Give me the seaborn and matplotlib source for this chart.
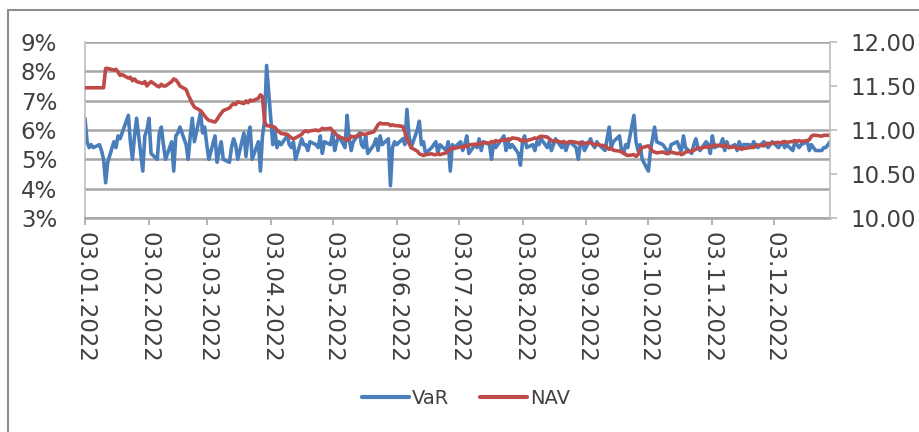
import matplotlib
matplotlib.use("Agg")
import matplotlib.pyplot as plt
from matplotlib.lines import Line2D
import seaborn as sns
import pandas as pd

# ---- data ----
var_pct = [
    6.4, 5.6, 5.4, 5.5, 5.4, 5.5, 5.3, 5.0, 4.2, 4.9,
    5.6, 5.4, 5.8, 5.7, 5.9, 6.5, 5.6, 5.0, 5.8, 6.4,
    4.6, 5.8, 6.0, 6.4, 5.2, 5.0, 5.9, 6.1, 5.5, 5.0,
    5.6, 4.6, 5.8, 5.9, 6.1, 5.5, 5.0, 5.8, 6.4, 5.6,
    6.6, 5.9, 6.1, 5.5, 5.0, 5.8, 4.9, 5.3, 5.6, 5.0,
    4.9, 5.4, 5.7, 5.5, 5.0, 5.9, 5.1, 5.8, 6.1, 5.0,
    5.6, 4.6, 5.8, 6.3, 8.2, 5.5, 6.0, 5.4, 5.6, 5.5,
    5.8, 5.5, 5.4, 5.6, 5.0, 5.7, 5.5, 5.5, 5.3, 5.6,
    5.5, 5.4, 5.8, 5.2, 5.6, 5.5, 5.9, 5.3, 5.6, 5.8,
    5.4, 6.5, 5.7, 5.3, 5.6, 5.9, 5.5, 5.4, 5.8, 5.2,
    5.5, 5.7, 5.3, 5.8, 5.5, 5.7, 4.1, 5.4, 5.6, 5.5,
    5.7, 5.5, 6.7, 5.8, 5.4, 6.0, 6.3, 5.5, 5.6, 5.2,
    5.4, 5.5, 5.6, 5.2, 5.5, 5.3, 5.6, 4.6, 5.5, 5.4,
    5.6, 5.3, 5.5, 5.8, 5.2, 5.5, 5.4, 5.7, 5.3, 5.6,
    5.5, 5.0, 5.6, 5.4, 5.5, 5.8, 5.3, 5.6, 5.4, 5.5,
    5.2, 4.8, 5.6, 5.8, 5.4, 5.5, 5.3, 5.6, 5.5, 5.7,
    5.4, 5.6, 5.3, 5.5, 5.7, 5.4, 5.6, 5.3, 5.5, 5.6,
    5.4, 5.0, 5.5, 5.6, 5.3, 5.7, 5.5, 5.4, 5.6, 5.5,
    5.3, 5.7, 6.1, 5.4, 5.6, 5.8, 5.3, 5.2, 5.5, 5.4,
    6.5, 5.6, 5.3, 5.5, 5.0, 4.6, 5.3, 5.7, 6.1, 5.6,
    5.5, 5.4, 5.3, 5.2, 5.5, 5.6, 5.4, 5.3, 5.8, 5.4,
    5.2, 5.5, 5.7, 5.4, 5.3, 5.6, 5.5, 5.2, 5.8, 5.4,
    5.5, 5.7, 5.3, 5.6, 5.4, 5.5, 5.3, 5.6, 5.4, 5.5,
    5.5, 5.4, 5.6, 5.5, 5.4, 5.6, 5.5, 5.4, 5.5, 5.6,
    5.4, 5.5, 5.6, 5.4, 5.5, 5.3, 5.6, 5.5, 5.4, 5.5,
    5.6, 5.3, 5.5, 5.4, 5.3, 5.3, 5.4, 5.4, 5.5, 5.6,
]
nav = [
    11.48, 11.48, 11.48, 11.48, 11.48, 11.48, 11.48, 11.48, 11.70, 11.70,
    11.68, 11.69, 11.66, 11.62, 11.63, 11.59, 11.60, 11.56, 11.58, 11.55,
    11.53, 11.55, 11.50, 11.53, 11.55, 11.50, 11.49, 11.52, 11.50, 11.50,
    11.55, 11.58, 11.57, 11.54, 11.50, 11.46, 11.40, 11.35, 11.30, 11.26,
    11.22, 11.19, 11.16, 11.13, 11.11, 11.09, 11.12, 11.16, 11.19, 11.22,
    11.25, 11.28, 11.30, 11.29, 11.32, 11.30, 11.33, 11.31, 11.34, 11.33,
    11.36, 11.40, 11.38, 11.10, 11.05, 11.04, 11.03, 11.00, 10.98, 10.96,
    10.95, 10.93, 10.91, 10.90, 10.91, 10.95, 10.98, 10.99, 10.98, 10.99,
    11.00, 10.99, 11.00, 11.02, 11.01, 11.02, 10.99, 10.97, 10.94, 10.92,
    10.90, 10.88, 10.90, 10.93, 10.92, 10.94, 10.96, 10.95, 10.95, 10.96,
    10.98, 11.02, 11.06, 11.08, 11.07, 11.07, 11.05, 11.06, 11.05, 11.05,
    11.04, 10.98, 10.90, 10.85, 10.80, 10.76, 10.73, 10.72, 10.71, 10.72,
    10.73, 10.72, 10.72, 10.73, 10.72, 10.74, 10.76, 10.78, 10.80, 10.79,
    10.81, 10.80, 10.82, 10.81, 10.83, 10.84, 10.83, 10.85, 10.84, 10.86,
    10.85, 10.87, 10.86, 10.88, 10.87, 10.89, 10.88, 10.90, 10.89, 10.91,
    10.90, 10.88, 10.89, 10.87, 10.88, 10.90, 10.91, 10.90, 10.92, 10.93,
    10.92, 10.90, 10.88, 10.87, 10.88, 10.86, 10.87, 10.85, 10.86, 10.87,
    10.86, 10.85, 10.86, 10.84, 10.85, 10.86, 10.84, 10.83, 10.84, 10.83,
    10.82, 10.80, 10.78, 10.79, 10.77, 10.76, 10.75, 10.74, 10.72, 10.71,
    10.72, 10.70, 10.72, 10.78, 10.80, 10.82, 10.79, 10.76, 10.75, 10.74,
    10.75, 10.74, 10.73, 10.74, 10.75, 10.73, 10.74, 10.72, 10.73, 10.75,
    10.76, 10.77, 10.78, 10.80, 10.79, 10.81, 10.80, 10.82, 10.81, 10.83,
    10.82, 10.81, 10.83, 10.82, 10.80, 10.81, 10.79, 10.80, 10.78, 10.79,
    10.80, 10.81, 10.80, 10.82, 10.83, 10.82, 10.84, 10.85, 10.84, 10.85,
    10.86, 10.85, 10.86, 10.87, 10.86, 10.87, 10.88, 10.87, 10.88, 10.87,
    10.88, 10.89, 10.93, 10.94, 10.94, 10.93, 10.94, 10.94, 10.94, 10.94,
]
tick_dates = ["2022-01-03", "2022-02-03", "2022-03-03", "2022-04-03",
              "2022-05-03", "2022-06-03", "2022-07-03", "2022-08-03",
              "2022-09-03", "2022-10-03", "2022-11-03", "2022-12-03"]
left_ticks = [3, 4, 5, 6, 7, 8, 9]
right_ticks = [10.0, 10.5, 11.0, 11.5, 12.0]
series_names = ["VaR", "NAV"]
colors = ["#4A7EBB", "#BE4B48"]

# ---- style ----
sns.set_style("white")
plt.rcParams["font.family"] = ["DejaVu Sans"]
FS = 16.5
LFS = 14
GRID = "#A6A6A6"
TXT = "#404040"

df_var = pd.DataFrame({"date": pd.bdate_range("2022-01-03", periods=len(var_pct)),
                       "value": var_pct})
df_nav = pd.DataFrame({"date": pd.bdate_range("2022-01-03", periods=len(nav)),
                       "value": nav})

fig = plt.figure(figsize=(9.2, 4.32), dpi=100)
ax = fig.add_axes([85 / 920, 1 - 218 / 432, (830 - 85) / 920, (218 - 42) / 432])
ax2 = ax.twinx()

sns.lineplot(data=df_var, x="date", y="value", ax=ax, color=colors[0], lw=2.6)
sns.lineplot(data=df_nav, x="date", y="value", ax=ax2, color=colors[1], lw=2.6)

ax.set_xlim(pd.Timestamp("2022-01-03"), pd.Timestamp("2022-12-30"))
ax.set_ylim(left_ticks[0], left_ticks[-1])
ax2.set_ylim(right_ticks[0], right_ticks[-1])
ax.set_xlabel("")
ax.set_ylabel("")
ax2.set_ylabel("")

ax.set_yticks(left_ticks)
ax.set_yticklabels([f"{t}%" for t in left_ticks], fontsize=FS, color=TXT)
ax2.set_yticks(right_ticks)
ax2.set_yticklabels([f"{t:.2f}" for t in right_ticks], fontsize=FS, color=TXT)

td = pd.to_datetime(tick_dates)
ax.set_xticks(td)
ax.set_xticklabels([d.strftime("%d.%m.%Y") for d in td], rotation=-90,
                   fontsize=FS, color=TXT, va="top", ha="center")

ax.grid(axis="y", color=GRID, lw=1.8)
ax.grid(axis="x", visible=False)
ax.set_axisbelow(True)

for a in (ax, ax2):
    for s in a.spines.values():
        s.set_visible(False)
ax.spines["left"].set_visible(True)
ax.spines["left"].set_color("#BFBFBF")
ax.spines["left"].set_linewidth(1.2)
ax.spines["bottom"].set_visible(True)
ax.spines["bottom"].set_color(GRID)
ax.spines["bottom"].set_linewidth(1.8)
ax2.spines["right"].set_visible(True)
ax2.spines["right"].set_color("#BFBFBF")
ax2.spines["right"].set_linewidth(1.2)

ax.tick_params(axis="y", length=0, pad=20)
ax.tick_params(axis="x", length=5, width=1.2, color=GRID, pad=5, bottom=True)
ax2.tick_params(axis="y", length=5, width=1.2, color="#BFBFBF", pad=10, right=True)

# chart-area border (top and left edges visible in the reference)
fig.add_artist(Line2D([8 / 920, 1.0], [1 - 10 / 432, 1 - 10 / 432],
                      transform=fig.transFigure, color="#8C8C8C", lw=1.5))
fig.add_artist(Line2D([8 / 920, 8 / 920], [0.0, 1 - 10 / 432],
                      transform=fig.transFigure, color="#8C8C8C", lw=1.5))

handles = [Line2D([], [], color=c, lw=3) for c in colors]
fig.legend(handles, series_names, loc="center", bbox_to_anchor=(466 / 920, 1 - 398 / 432),
           ncol=2, frameon=False, fontsize=LFS, handlelength=2.4, handletextpad=0.15,
           columnspacing=1.6, labelcolor=TXT)

fig.savefig("out.png", dpi=100)
